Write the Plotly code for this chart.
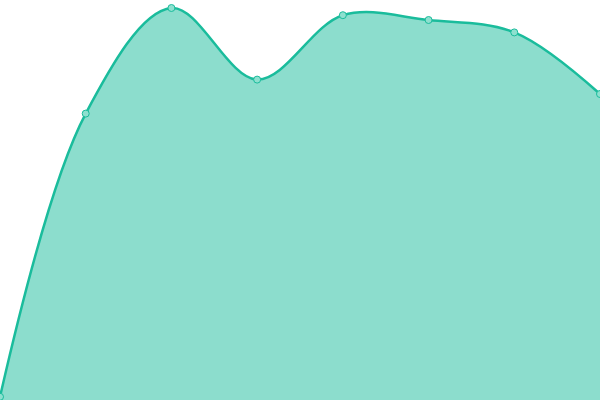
import plotly.graph_objects as go

# x positions and values (y axis 0..100, no axes shown)
x_vals = [0, 1, 2, 3, 4, 5, 6, 7]
y_vals = [0.8, 71.6, 98.0, 80.1, 96.2, 95.0, 91.9, 76.5]

LINE = "#1abc9c"
FILL = "rgba(26,188,156,0.5)"

fig = go.Figure()
fig.add_trace(go.Scatter(
    x=x_vals, y=y_vals,
    mode="lines+markers",
    line=dict(color=LINE, width=2.5, shape="spline", smoothing=1),
    fill="tozeroy",
    fillcolor=FILL,
    marker=dict(size=7, color="#8ee0cf", line=dict(color=LINE, width=1)),
    cliponaxis=False,
    hoverinfo="skip",
))
fig.update_layout(
    width=600, height=400,
    margin=dict(l=0, r=0, t=0, b=0),
    paper_bgcolor="white",
    plot_bgcolor="white",
    showlegend=False,
    xaxis=dict(range=[0, 7], visible=False, fixedrange=True),
    yaxis=dict(range=[0, 100], visible=False, fixedrange=True),
)
# body margin off so the plot sits flush in the window
fig.write_html("out.html", config={"displayModeBar": False},
               post_script="document.body.style.margin='0';")
